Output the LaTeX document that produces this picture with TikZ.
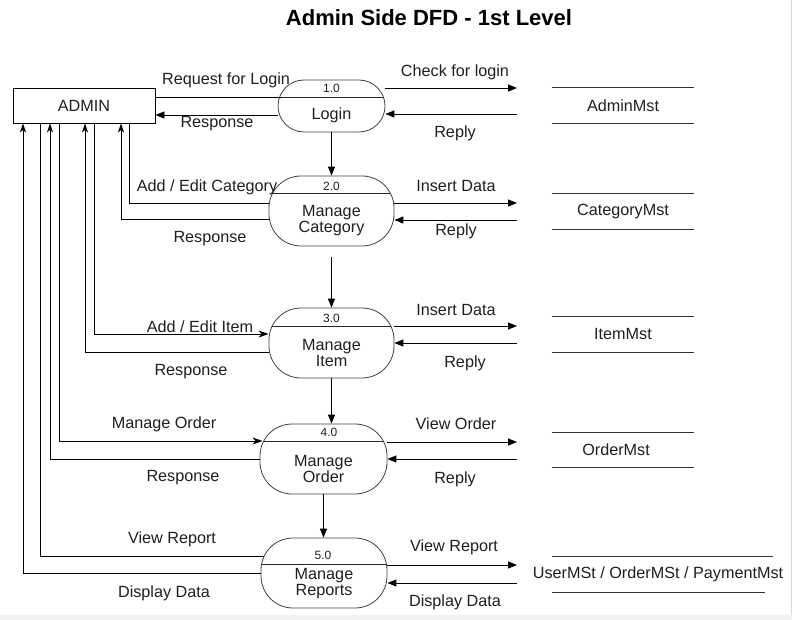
\documentclass[tikz,border=0pt]{standalone}
\usepackage{fontspec}
\setmainfont{Liberation Sans}
\usetikzlibrary{arrows.meta,calc}
\begin{document}
\begin{tikzpicture}[x=1pt,y=-1pt,
  lbl/.style={font=\fontsize{16.2}{16}\selectfont, inner sep=0pt, text=black!88},
  num/.style={font=\fontsize{12}{12}\selectfont, inner sep=0pt, text=black!88},
  flow/.style={line width=0.9pt, -{Triangle[length=9pt,width=7pt]}},
  plain/.style={line width=0.9pt},
  up/.style={line width=0.9pt, -{Stealth[length=9pt,width=6pt,inset=2.5pt]}},
  stealthin/.style={line width=0.9pt, -{Stealth[length=10pt,width=7pt,inset=3pt]}},
  proc/.style={draw=black!75, line width=0.8pt, rounded corners=#1, inner sep=0pt},
  divider/.style={path picture={\draw[line width=0.8pt,black!85] ([yshift=-#1]path picture bounding box.north west) -- ([yshift=-#1]path picture bounding box.north east);}},
  store/.style={lbl, minimum height=35pt},
  storeline/.style={line width=0.9pt, black!80},
]
\useasboundingbox (0,0) rectangle (792,620);
\fill[black!5] (0,615) rectangle (792,620);
\draw[black!15, line width=0.8pt] (791,0) -- (791,615);

% title
\node[font=\fontsize{22}{24}\selectfont\bfseries, inner sep=0pt] (title) at (429,18) {Admin Side DFD - 1st Level};

% external entity
\node[draw, line width=0.9pt, minimum width=142pt, minimum height=35pt, lbl] (admin) at (84,105.5) {ADMIN};

% processes
\node[proc=26, minimum width=107pt, minimum height=52pt, divider=17pt] (p1) at (331.5,106) {};
\node[num] (p1n) at (331.5,88.5) {1.0};
\node[lbl] (p1t) at (331.5,115) {Login};

\node[proc=32, minimum width=125pt, minimum height=70pt, divider=17pt] (p2) at (331.5,211) {};
\node[num] (p2n) at (331.5,186) {2.0};
\node[lbl, align=center] (p2t) at (331.5,221) {Manage\\Category};

\node[proc=32, minimum width=125pt, minimum height=70pt, divider=18pt] (p3) at (331.5,343) {};
\node[num] (p3n) at (331.5,318) {3.0};
\node[lbl, align=center] (p3t) at (331.5,353) {Manage\\Item};

\node[proc=32, minimum width=127pt, minimum height=70pt, divider=17pt] (p4) at (323.5,459) {};
\node[num] (p4n) at (329,432) {4.0};
\node[lbl, align=center] (p4t) at (323.5,469) {Manage\\Order};

\node[proc=32, minimum width=126pt, minimum height=70pt, divider=26pt] (p5) at (324,573) {};
\node[num] (p5n) at (323,555.5) {5.0};
\node[lbl, align=center] (p5t) at (324,584) {Manage\\Reports};

% data stores
\node[store, minimum width=142pt] (s1) at (623,105.5) {AdminMst};
\draw[storeline] (s1.north west) -- (s1.north east);
\draw[storeline] (s1.south west) -- (s1.south east);
\node[store, minimum width=142pt] (s2) at (623,211.5) {CategoryMst};
\draw[storeline] (s2.north west) -- (s2.north east);
\draw[storeline] (s2.south west) -- (s2.south east);
\node[store, minimum width=142pt] (s3) at (623,334.5) {ItemMst};
\draw[storeline] (s3.north west) -- (s3.north east);
\draw[storeline] (s3.south west) -- (s3.south east);
\node[store, minimum width=142pt] (s4) at (616,450) {OrderMst};
\draw[storeline] (s4.north west) ++(7,0) -- ++(142,0);
\draw[storeline] (s4.south west) ++(7,0) -- ++(142,0);
\node[lbl] (s5) at (658,574) {UserMSt / OrderMSt / PaymentMst};
\draw[storeline] ([xshift=-106pt,yshift=18pt]s5.center) -- ([xshift=115pt,yshift=18pt]s5.center);
\draw[storeline] ([xshift=-106pt,yshift=-18pt]s5.center) -- ([xshift=107pt,yshift=-18pt]s5.center);

% free ends on the right
\coordinate (r1a) at (517,88);  \coordinate (r1b) at (517,114);
\coordinate (r2a) at (517,203); \coordinate (r2b) at (517,220);
\coordinate (r3a) at (517,326); \coordinate (r3b) at (517,343);
\coordinate (r4a) at (517,442); \coordinate (r4b) at (517,459);
\coordinate (r5a) at (517,565); \coordinate (r5b) at (517,583);

% left levels
\coordinate (l1a) at (200,97);  \coordinate (l1b) at (200,115);
\coordinate (c2a) at (129,203); \coordinate (c2b) at (121,219);
\coordinate (c3a) at (94,334);  \coordinate (c3b) at (85,352);
\coordinate (c4a) at (59,441);  \coordinate (c4b) at (50,459);
\coordinate (c5a) at (40,556);  \coordinate (c5b) at (23,573);

% right-side flows
\draw[flow] (p1.east |- r1a) -- (r1a);
\draw[flow] (r1b) -- (p1.east |- r1b);
\draw[flow] (p2.east |- r2a) -- (r2a);
\draw[flow] (r2b) -- (p2.east |- r2b);
\draw[flow] (p3.east |- r3a) -- (r3a);
\draw[flow] (r3b) -- (p3.east |- r3b);
\draw[flow] (p4.east |- r4a) -- (r4a);
\draw[flow] (r4b) -- (p4.east |- r4b);
\draw[flow] (p5.east |- r5a) -- (r5a);
\draw[flow] (r5b) -- (p5.east |- r5b);

% left-side flows
\draw[plain] (admin.east |- l1a) -- ([xshift=4pt]p1.west |- l1a);
\draw[flow] (p1.west |- l1b) -- (admin.east |- l1b);
\draw[plain] (admin.south -| c2a) |- (p2.west |- c2a);
\draw[up] (p2.west |- c2b) -| (admin.south -| c2b);
\draw[stealthin] (admin.south -| c3a) |- (p3.west |- c3a);
\draw[up] (p3.west |- c3b) -| (admin.south -| c3b);
\draw[stealthin] (admin.south -| c4a) |- ([xshift=3pt]p4.west |- c4a);
\draw[up] (p4.west |- c4b) -| (admin.south -| c4b);
\draw[plain] (admin.south -| c5a) |- ([xshift=3pt]p5.west |- c5a);
\draw[up] (p5.west |- c5b) -| (admin.south -| c5b);

% vertical flows
\draw[flow] (p1.south) -- (p2.north);
\draw[flow, shorten <=11pt] (p2.south) -- (p3.north);
\draw[flow] (p3.south) -- (p3.south |- p4.north);
\draw[flow] (p4.south) -- (p4.south |- p5.north);

% labels
\node[lbl] (t1) at (226,80) {Request for Login};
\node[lbl] (t2) at (217,124) {Response};
\node[lbl] (t3) at (455,72) {Check for login};
\node[lbl] (t4) at (455,133) {Reply};
\node[lbl] (t5) at (207,187) {Add / Edit Category};
\node[lbl] (t6) at (210,239) {Response};
\node[lbl] (t7) at (456,186) {Insert Data};
\node[lbl] (t8) at (456,231) {Reply};
\node[lbl] (t9) at (200,327) {Add / Edit Item};
\node[lbl] (t10) at (191,372) {Response};
\node[lbl] (t11) at (456,310) {Insert Data};
\node[lbl] (t12) at (465,363) {Reply};
\node[lbl] (t13) at (164,424) {Manage Order};
\node[lbl] (t14) at (183,478) {Response};
\node[lbl] (t15) at (456,424) {View Order};
\node[lbl] (t16) at (455,479) {Reply};
\node[lbl] (t17) at (172,539) {View Report};
\node[lbl] (t18) at (164,593) {Display Data};
\node[lbl] (t19) at (454,547) {View Report};
\node[lbl] (t20) at (455,602) {Display Data};
\end{tikzpicture}
\end{document}
